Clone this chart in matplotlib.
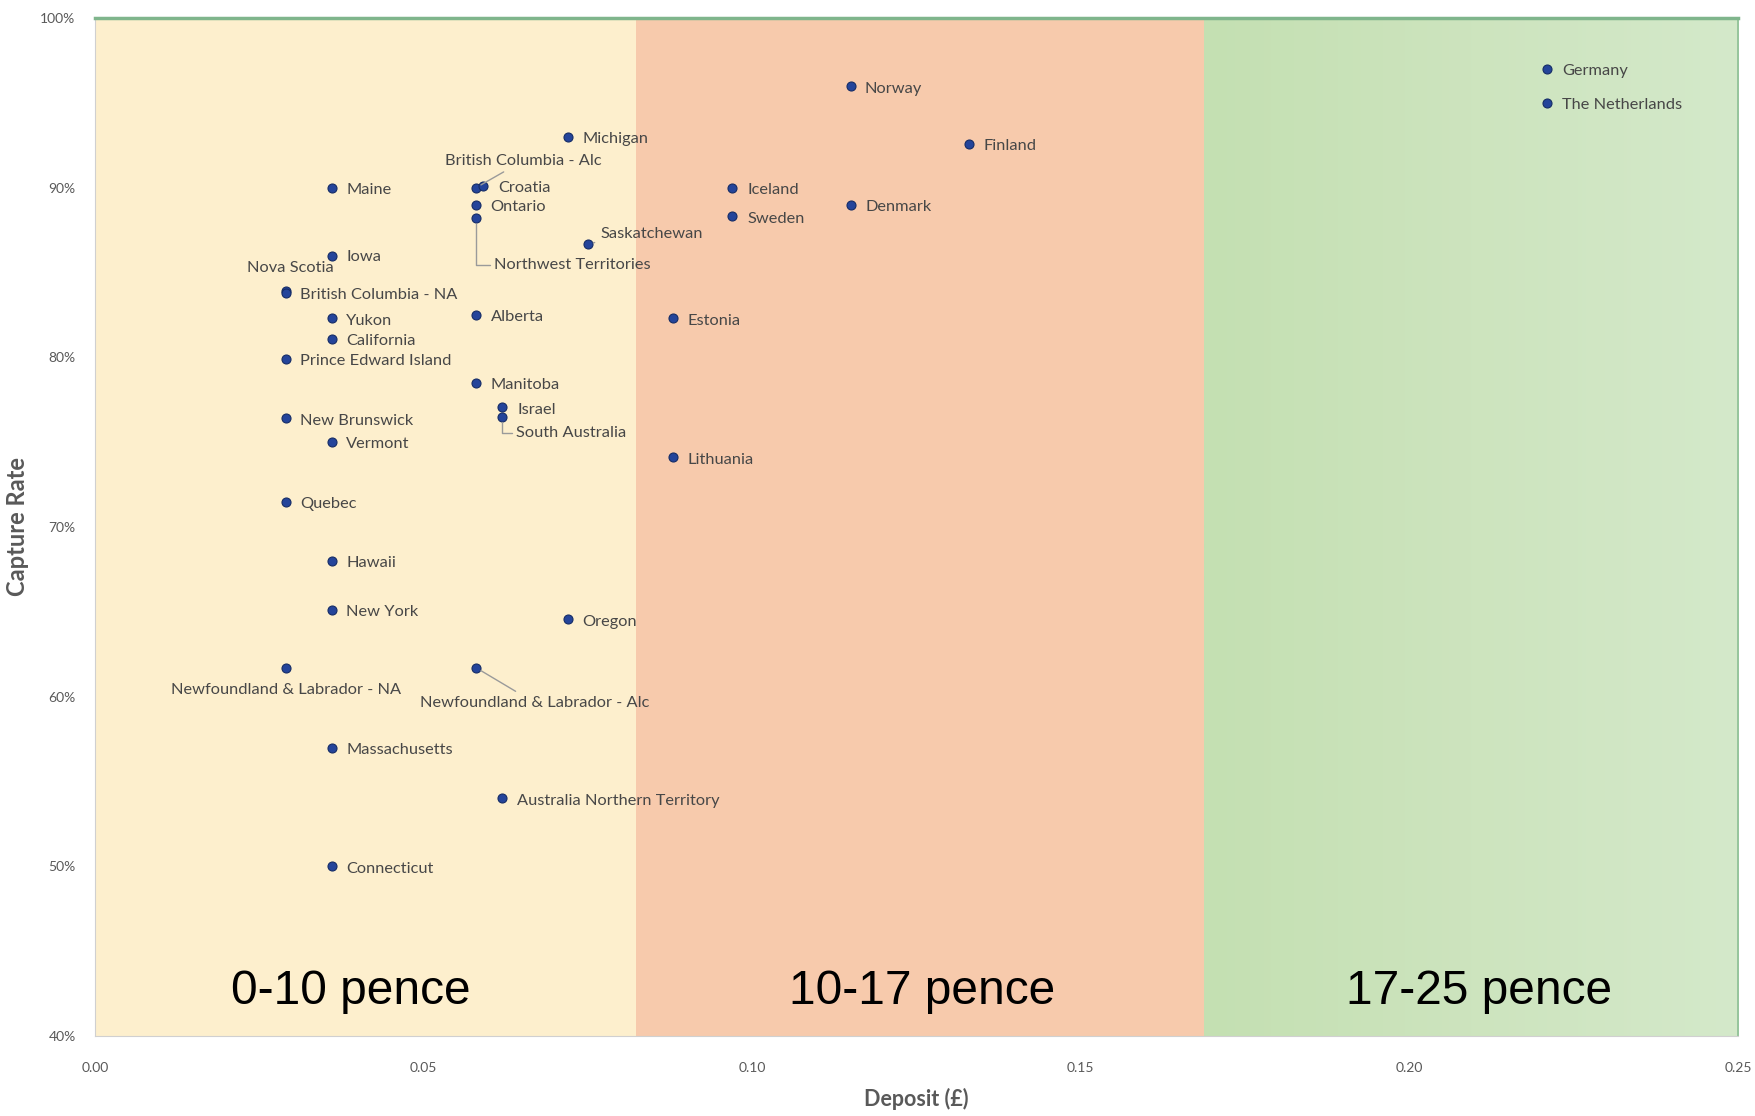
import matplotlib
matplotlib.use("Agg")
import matplotlib.pyplot as plt
import numpy as np
from matplotlib.colors import LinearSegmentedColormap

# ---------------- data ----------------
names = ["Maine", "Iowa", "Nova Scotia", "British Columbia - NA", "Yukon", "California",
         "Prince Edward Island", "New Brunswick", "Vermont", "Quebec", "Hawaii", "New York",
         "Newfoundland & Labrador - NA", "Massachusetts", "Connecticut",
         "Michigan", "British Columbia - Alc", "Croatia", "Ontario", "Northwest Territories",
         "Saskatchewan", "Alberta", "Manitoba", "Israel", "South Australia", "Oregon",
         "Newfoundland & Labrador - Alc", "Australia Northern Territory",
         "Iceland", "Sweden", "Estonia", "Lithuania", "Norway", "Denmark", "Finland",
         "Germany", "The Netherlands"]
deposit = [0.036, 0.036, 0.029, 0.029, 0.036, 0.036,
           0.029, 0.029, 0.036, 0.029, 0.036, 0.036,
           0.029, 0.036, 0.036,
           0.072, 0.058, 0.059, 0.058, 0.058,
           0.075, 0.058, 0.058, 0.062, 0.062, 0.072,
           0.058, 0.062,
           0.097, 0.097, 0.088, 0.088, 0.115, 0.115, 0.133,
           0.221, 0.221]
capture = [90.0, 86.0, 83.9, 83.8, 82.3, 81.1,
           79.9, 76.4, 75.0, 71.5, 68.0, 65.1,
           61.7, 57.0, 50.0,
           93.0, 90.0, 90.1, 89.0, 88.2,
           86.7, 82.5, 78.5, 77.1, 76.5, 64.6,
           61.7, 54.0,
           90.0, 88.3, 82.3, 74.1, 96.0, 89.0, 92.6,
           97.0, 95.0]
band_edges = [0.0, 0.0823, 0.1687, 0.25]
band_labels = ["0-10 pence", "10-17 pence", "17-25 pence"]
band_label_x = [0.0389, 0.1258, 0.2106]
x_ticks = [0.00, 0.05, 0.10, 0.15, 0.20, 0.25]
y_ticks = [40, 50, 60, 70, 80, 90, 100]

# ---------------- label placement (styling) ----------------
S = 1.12  # shrunk->full px
default_off = (13, -2, "left", None)
special = {
    "Nova Scotia": (43, 21, "right", None),
    "British Columbia - Alc": (42, 24, "center", "arc3"),
    "Croatia": (14, -2, "left", None),
    "Northwest Territories": (16, -42, "left", "angle"),
    "Saskatchewan": (11, 9, "left", "arc3"),
    "Israel": (13, -3, "left", None),
    "South Australia": (12, -15, "left", "angle"),
    "Newfoundland & Labrador - NA": (0, -20, "center", None),
    "Newfoundland & Labrador - Alc": (52, -31, "center", "arc3"),
    "Oregon": (13, -3, "left", None),
    "Norway": (12, -3, "left", None),
    "Iowa": (13, -1, "left", None),
    "Michigan": (13, -2, "left", None),
}

fig = plt.figure(figsize=(17.56, 11.16), dpi=100)
ax = fig.add_axes([0.0541, 0.0717, 0.9356, 0.9122])
ax.set_xlim(0, 0.25)
ax.set_ylim(40, 100)

band_colors = ["#FDEFCD", "#F7CAAC"]
for i in range(2):
    ax.axvspan(band_edges[i], band_edges[i + 1], color=band_colors[i], zorder=0, lw=0)
cmap = LinearSegmentedColormap.from_list("g", ["#C4E0B2", "#CDE4BE", "#D4E9CA"])
grad = np.linspace(0, 1, 256).reshape(1, -1)
ax.imshow(grad, extent=[band_edges[2], band_edges[3], 40, 100], aspect="auto",
          cmap=cmap, zorder=0)
ax.set_xlim(0, 0.25)
ax.set_ylim(40, 100)

ax.scatter(deposit, capture, s=42, c="#24449A", edgecolors="#152C66", linewidths=0.8, zorder=5)

txtcolor = "#474747"
for n, x, y in zip(names, deposit, capture):
    dx, dy, ha, conn = special.get(n, default_off)
    arrow = None
    if conn == "arc3":
        arrow = dict(arrowstyle="-", color="#9A9A9A", lw=1.0, shrinkA=2, shrinkB=4)
    elif conn == "angle":
        arrow = dict(arrowstyle="-", color="#9A9A9A", lw=1.0, shrinkA=1, shrinkB=4,
                     connectionstyle="angle,angleA=0,angleB=90,rad=0",
                     relpos=(0, 0.5))
    ax.annotate(n, (x, y), xytext=(dx * S, dy * S), textcoords="offset pixels",
                ha=ha, va="center", fontsize=11.8, family="Lato", color=txtcolor,
                arrowprops=arrow, zorder=6)

for lab, bx in zip(band_labels, band_label_x):
    ax.text(bx, 42.65, lab, ha="center", va="center", fontsize=34.5,
            family="Liberation Sans", color="black", zorder=6)

ax.set_xticks(x_ticks)
ax.set_xticklabels([f"{v:.2f}" for v in x_ticks])
ax.set_yticks(y_ticks)
ax.set_yticklabels([f"{v}%" for v in y_ticks])
ax.tick_params(length=0, labelsize=10, labelcolor="#595959")
ax.tick_params(axis="x", pad=19)
ax.tick_params(axis="y", pad=14)
for lbl in ax.get_xticklabels() + ax.get_yticklabels():
    lbl.set_family("Lato")

ax.set_xlabel("Deposit (£)", fontsize=15.5, family="Lato", weight="bold", color="#595959", labelpad=10)
ax.set_ylabel("Capture Rate", fontsize=17, family="Lato", weight="bold", color="#595959", labelpad=8)

ax.spines["left"].set_color("#D0D0D0")
ax.spines["bottom"].set_color("#D0D0D0")
ax.spines["top"].set_color("#7FB58C")
ax.spines["top"].set_linewidth(2.5)
ax.spines["right"].set_color("#8CBF95")
ax.spines["right"].set_linewidth(1.2)

fig.savefig("out.png", dpi=100)
